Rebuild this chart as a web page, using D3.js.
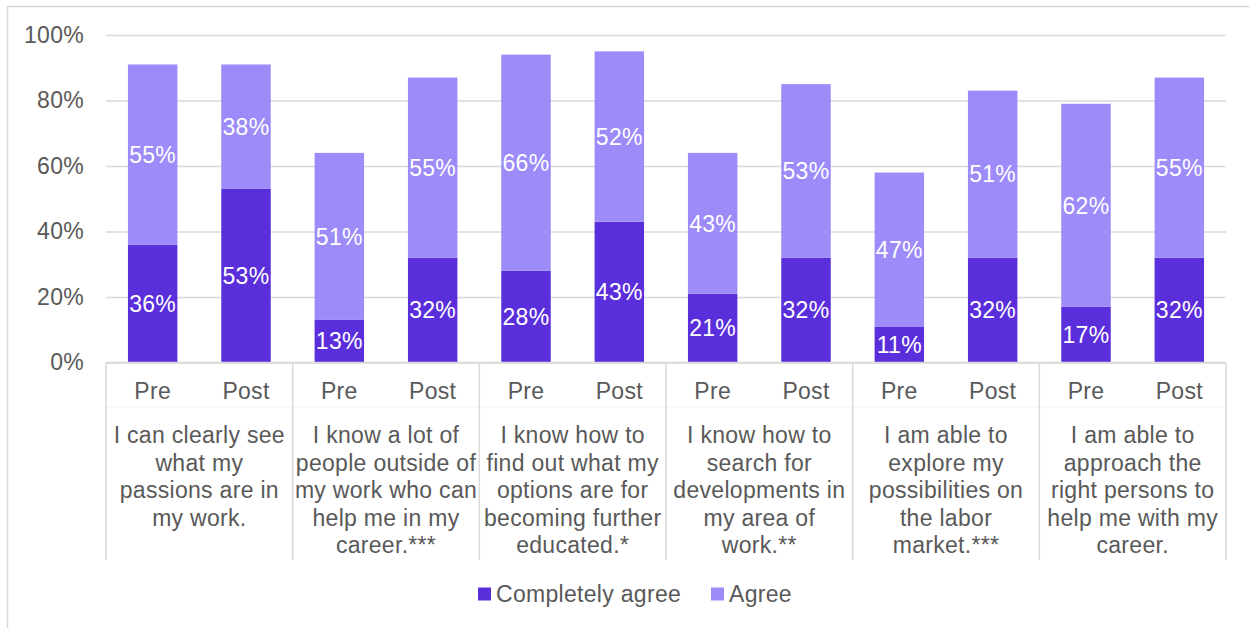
<!DOCTYPE html>
<html>
<head>
<meta charset="utf-8">
<script src="https://cdn.jsdelivr.net/npm/d3@7"></script>
<style>
  html, body { margin: 0; padding: 0; background: #fff; }
  svg { display: block; font-family: "Liberation Sans", Arial, sans-serif; }
  svg text { letter-spacing: 0.3px; }
</style>
</head>
<body>
<svg id="chart" width="1250" height="628"></svg>
<script>
// Statements (each split into the lines shown under the axis)
const statements = [
  ["I can clearly see", "what my", "passions are in", "my work."],
  ["I know a lot of", "people outside of", "my work who can", "help me in my", "career.***"],
  ["I know how to", "find out what my", "options are for", "becoming further", "educated.*"],
  ["I know how to", "search for", "developments in", "my area of", "work.**"],
  ["I am able to", "explore my", "possibilities on", "the labor", "market.***"],
  ["I am able to", "approach the", "right persons to", "help me with my", "career."]
];
const phases = ["Pre", "Post"];
const seriesNames = ["Completely agree", "Agree"];
// Share of respondents (%), one pair [Pre, Post] per statement
const completelyAgree = [[36, 53], [13, 32], [28, 43], [21, 32], [11, 32], [17, 32]];
const agree = [[55, 38], [51, 55], [66, 52], [43, 53], [47, 51], [62, 55]];
const yTicks = [0, 20, 40, 60, 80, 100];

const colors = { "Completely agree": "#5b2edb", "Agree": "#9c8bf8" };
const textColor = "#595959";
const gridColor = "#d9d9d9";
const fontSize = 23;

const svg = d3.select("#chart");

// Outer chart frame
svg.append("rect")
  .attr("x", 7.5).attr("y", 6.5)
  .attr("width", 1260).attr("height", 640)
  .attr("fill", "#fff").attr("stroke", gridColor).attr("stroke-width", 1.5);

const plot = { left: 106, right: 1226, top: 35, bottom: 362.5 };

const y = d3.scaleLinear().domain([0, 100]).range([plot.bottom, plot.top]);
const groupIdx = d3.range(statements.length);
const xGroup = d3.scaleBand().domain(groupIdx).range([plot.left, plot.right]).padding(0);
const xPhase = d3.scaleBand().domain(phases).range([0, xGroup.bandwidth()]).paddingInner(0.47).paddingOuter(0.235);

// Gridlines and y-axis labels
const yAxis = d3.axisLeft(y).tickValues(yTicks).tickSize(-(plot.right - plot.left)).tickPadding(22)
  .tickFormat(d => d + "%");
const gy = svg.append("g").attr("transform", `translate(${plot.left},0)`).call(yAxis);
gy.select(".domain").remove();
gy.selectAll(".tick line").attr("stroke", gridColor).attr("stroke-width", 1.5);
gy.selectAll(".tick text").attr("fill", textColor).attr("font-size", fontSize)
  .attr("font-family", "Liberation Sans, Arial, sans-serif");

// Stacked bars
const rows = [];
groupIdx.forEach(g => {
  phases.forEach((p, pi) => {
    rows.push({ g, phase: p, "Completely agree": completelyAgree[g][pi], "Agree": agree[g][pi] });
  });
});
const stack = d3.stack().keys(seriesNames)(rows);

const layers = svg.append("g").selectAll("g").data(stack).join("g")
  .attr("fill", d => colors[d.key]);

layers.selectAll("rect").data(d => d).join("rect")
  .attr("x", d => xGroup(d.data.g) + xPhase(d.data.phase))
  .attr("width", xPhase.bandwidth())
  .attr("y", d => y(d[1]))
  .attr("height", d => y(d[0]) - y(d[1]));

layers.selectAll("text").data(d => d).join("text")
  .attr("x", d => xGroup(d.data.g) + xPhase(d.data.phase) + xPhase.bandwidth() / 2)
  .attr("y", d => y((d[0] + d[1]) / 2))
  .attr("dy", "0.36em")
  .attr("text-anchor", "middle")
  .attr("fill", "#fff")
  .attr("font-size", fontSize)
  .text(d => (d[1] - d[0]) + "%");

// Multi-level category axis
const axis = svg.append("g");
axis.append("line")
  .attr("x1", plot.left).attr("x2", plot.right)
  .attr("y1", plot.bottom).attr("y2", plot.bottom)
  .attr("stroke", gridColor).attr("stroke-width", 1.5);
axis.append("line")
  .attr("x1", plot.left).attr("x2", plot.right)
  .attr("y1", 407).attr("y2", 407)
  .attr("stroke", "#f2f2f2").attr("stroke-width", 1);
axis.selectAll("line.sep").data(d3.range(statements.length + 1)).join("line")
  .attr("class", "sep")
  .attr("x1", i => i < statements.length ? xGroup(i) : plot.right)
  .attr("x2", i => i < statements.length ? xGroup(i) : plot.right)
  .attr("y1", plot.bottom).attr("y2", 560)
  .attr("stroke", gridColor).attr("stroke-width", 1.5);

axis.selectAll("text.phase").data(rows).join("text")
  .attr("class", "phase")
  .attr("x", d => xGroup(d.g) + xPhase(d.phase) + xPhase.bandwidth() / 2)
  .attr("y", 391).attr("dy", "0.36em")
  .attr("text-anchor", "middle").attr("fill", textColor).attr("font-size", fontSize)
  .text(d => d.phase);

const catText = axis.selectAll("text.cat").data(statements).join("text")
  .attr("class", "cat")
  .attr("text-anchor", "middle").attr("fill", textColor).attr("font-size", fontSize);
catText.selectAll("tspan").data((lines, g) => lines.map((t, i) => ({ t, i, g }))).join("tspan")
  .attr("x", d => xGroup(d.g) + xGroup.bandwidth() / 2)
  .attr("y", d => 435 + d.i * 27.5)
  .attr("dy", "0.36em")
  .text(d => d.t);

// Legend
const legendX = [478, 711];
const legend = svg.append("g").selectAll("g").data(seriesNames).join("g")
  .attr("transform", (d, i) => `translate(${legendX[i]},594)`);
legend.append("rect").attr("x", 0).attr("y", -6.5).attr("width", 13).attr("height", 13)
  .attr("fill", d => colors[d]);
legend.append("text").attr("x", 18).attr("dy", "0.36em")
  .attr("fill", textColor).attr("font-size", fontSize).text(d => d);
</script>
</body>
</html>
